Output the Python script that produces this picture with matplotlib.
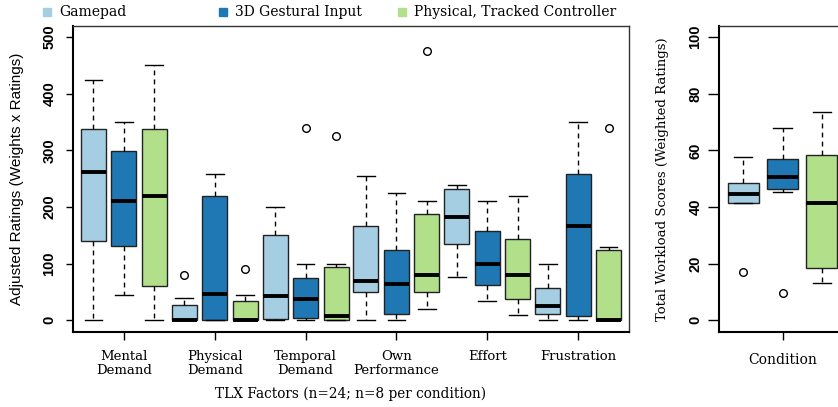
import matplotlib
matplotlib.use("Agg")
import matplotlib.pyplot as plt
from matplotlib.lines import Line2D

# TLX factors (x tick labels of the left panel)
factors = ["Mental\nDemand", "Physical\nDemand", "Temporal\nDemand",
           "Own\nPerformance", "Effort", "Frustration"]
conditions = ["Gamepad", "3D Gestural Input", "Physical, Tracked Controller"]
colors = ["#a6cee3", "#1f78b4", "#b2df8a"]

# five number summaries: (low whisker, q1, median, q3, high whisker)
gamepad = [(0, 140, 262, 337, 425), (0, 0, 0, 27, 40), (0, 2, 43, 150, 200),
           (0, 50, 70, 167, 255), (76, 135, 182, 232, 239), (0, 12, 25, 57, 100)]
gestural = [(45, 132, 210, 299, 350), (0, 0, 47, 219, 259), (0, 5, 37, 75, 100),
            (0, 12, 65, 125, 225), (35, 62, 100, 157, 210), (0, 8, 167, 259, 350)]
tracked = [(0, 60, 220, 337, 450), (0, 0, 0, 35, 45), (0, 1, 8, 95, 100),
           (20, 50, 80, 187, 210), (10, 37, 80, 144, 220), (0, 0, 0, 125, 130)]

gamepad_out = [[], [80], [], [], [], []]
gestural_out = [[], [], [340], [], [], []]
tracked_out = [[], [90], [325], [475], [], [340]]

# total workload (right panel), one summary per condition
total = [(41.4, 41.4, 44.7, 48.6, 57.7), (45.3, 46.2, 50.7, 57.0, 68.0),
         (13.3, 18.4, 41.3, 58.2, 73.6)]
total_out = [[17], [9.6], []]

SERIF = "DejaVu Serif"
SANS = "Liberation Sans"


def to_stats(summary, fliers):
    lo, q1, med, q3, hi = summary
    return dict(whislo=lo, q1=q1, med=med, q3=q3, whishi=hi, fliers=fliers)


def draw_boxes(ax, stats, positions, width, capw, color):
    ax.bxp(stats, positions=positions, widths=width, capwidths=capw,
           patch_artist=True, manage_ticks=False,
           boxprops=dict(facecolor=color, edgecolor="#222222", linewidth=1.0),
           medianprops=dict(color="black", linewidth=2.8, solid_capstyle="butt"),
           whiskerprops=dict(color="black", linewidth=1.0, linestyle=(0, (3.5, 3))),
           capprops=dict(color="black", linewidth=1.0),
           flierprops=dict(marker="o", markerfacecolor="none", markeredgecolor="black",
                           markersize=5.5, markeredgewidth=1.0))


def style_axes(ax):
    for side in ["left", "bottom"]:
        ax.spines[side].set_linewidth(1.5)
        ax.spines[side].set_color("black")
    for side in ["top", "right"]:
        ax.spines[side].set_linewidth(1.0)
        ax.spines[side].set_color("#333333")
    for lab in ax.get_yticklabels():
        lab.set_rotation(90)
        lab.set_va("center")
        lab.set_fontfamily(SANS)
        lab.set_fontweight("bold")
        lab.set_fontsize(10.5)


fig = plt.figure(figsize=(8.38, 4.07), dpi=100)
W, H = 838, 407

# ---- left panel: TLX factors
ax1 = fig.add_axes([73 / W, 75.3 / H, 556 / W, 306 / H])
groups = [gamepad, gestural, tracked]
outs = [gamepad_out, gestural_out, tracked_out]
offset = 0.335
for i, (data, out) in enumerate(zip(groups, outs)):
    stats = [to_stats(s, o) for s, o in zip(data, out)]
    pos = [k + 1 + (i - 1) * offset for k in range(len(factors))]
    draw_boxes(ax1, stats, pos, 0.275, 0.195, colors[i])

ax1.set_xlim(0.44, 6.56)
ax1.set_ylim(-20, 520)
ax1.set_yticks([0, 100, 200, 300, 400, 500])
ax1.set_xticks(range(1, len(factors) + 1))
ax1.set_xticklabels(factors, fontfamily=SERIF, fontsize=9.5, linespacing=1.1)
ax1.tick_params(axis="y", length=5, width=1, pad=7)
ax1.tick_params(axis="x", length=6, width=1, pad=7)
ax1.set_ylabel("Adjusted Ratings (Weights x Ratings)", fontfamily=SANS, fontsize=11, labelpad=13)
ax1.set_xlabel("TLX Factors (n=24; n=8 per condition)", fontfamily=SERIF, fontsize=9.8, labelpad=7)
style_axes(ax1)

# ---- right panel: total workload
ax2 = fig.add_axes([719 / W, 75.3 / H, 127 / W, 306 / H])
for i in range(3):
    draw_boxes(ax2, [to_stats(total[i], total_out[i])], [i + 1], 0.79, 0.46, colors[i])
ax2.set_xlim(0.38, 3.62)
ax2.set_ylim(-4, 104)
ax2.set_yticks([0, 20, 40, 60, 80, 100])
ax2.set_xticks([2])
ax2.set_xticklabels(["Condition"], fontfamily=SERIF, fontsize=10)
ax2.tick_params(axis="y", length=8, width=1, pad=4)
ax2.tick_params(axis="x", length=6, width=1, pad=9)
ax2.set_ylabel("Total Workload Scores (Weighted Ratings)", fontfamily=SERIF, fontsize=9.5, labelpad=14)
style_axes(ax2)

# ---- legend along the top
marker_x = [47, 223, 402]
for mx, name, col in zip(marker_x, conditions, colors):
    fig.add_artist(Line2D([mx / W], [1 - 12 / H], marker="s", markersize=6,
                          color=col, linestyle="none", transform=fig.transFigure))
    fig.text((mx + 12) / W, 1 - 12 / H, name, fontfamily=SERIF, fontsize=10,
             ha="left", va="center")

fig.savefig("out.png", dpi=100)
